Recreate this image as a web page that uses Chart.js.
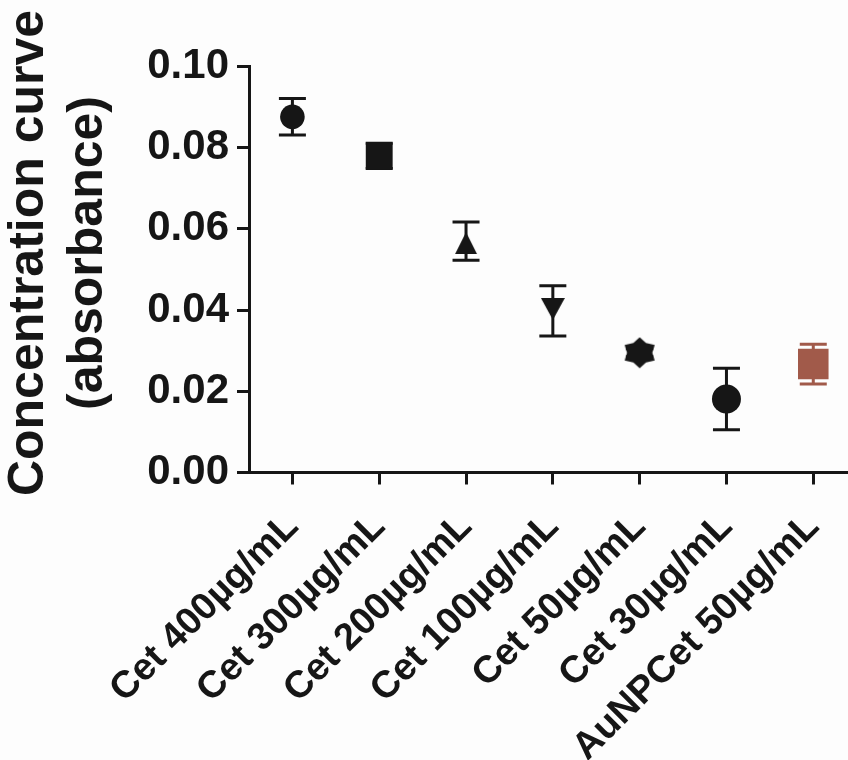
<!DOCTYPE html>
<html>
<head>
<meta charset="utf-8">
<title>Concentration curve</title>
<script src="https://cdn.jsdelivr.net/npm/chart.js@4.4.0/dist/chart.umd.min.js"></script>
<style>
  html, body { margin: 0; padding: 0; background: #fdfdfd; }
  canvas { display: block; }
</style>
</head>
<body>
<canvas id="graficoCurva" width="848" height="760"></canvas>
<script>
// Grupos do eixo x
const categorias = ['Cet 400µg/mL', 'Cet 300µg/mL', 'Cet 200µg/mL', 'Cet 100µg/mL', 'Cet 50µg/mL', 'Cet 30µg/mL', 'AuNPCet 50µg/mL'];
// Média da absorbância e desvio de cada grupo
const medias = [0.0876, 0.0780, 0.0570, 0.0398, 0.0295, 0.0181, 0.0267];
const desvios = [0.0045, 0.0031, 0.0047, 0.0062, 0.0010, 0.0076, 0.0049];
// Marcas do eixo y
const ticksY = [0, 0.02, 0.04, 0.06, 0.08, 0.10];
const tituloY = ['Concentration curve', '(absorbance)'];

const PRETO = '#161616';
const TIJOLO = '#a15a4a';
const FONTE = "'Liberation Sans', Arial, sans-serif";

// Desenha um símbolo num canvas pequeno para usar como pointStyle
function simbolo(w, h, desenha) {
  const c = document.createElement('canvas');
  c.width = w;
  c.height = h;
  const g = c.getContext('2d');
  g.fillStyle = PRETO;
  g.beginPath();
  desenha(g);
  g.closePath();
  g.fill();
  return c;
}

const trianguloCima = simbolo(24, 26, g => { g.moveTo(12, 4); g.lineTo(23, 26); g.lineTo(1, 26); });
const trianguloBaixo = simbolo(24, 26, g => { g.moveTo(0, 0); g.lineTo(24, 0); g.lineTo(12, 22); });
const estrela = simbolo(32, 32, g => {
  for (let i = 0; i < 12; i++) {
    const a = i * Math.PI / 6;
    const r = i % 2 === 0 ? 15.5 : 11.3;
    const x = 16 + Math.sin(a) * r * 1.12;
    const y = 16 - Math.cos(a) * r;
    if (i === 0) g.moveTo(x, y); else g.lineTo(x, y);
  }
});

const estilos = ['circle', 'rect', trianguloCima, trianguloBaixo, estrela, 'circle', 'rect'];
const raios = [12.3, 19, 13, 13, 16, 14.5, 21.6];
const cores = categorias.map((_, i) => i === categorias.length - 1 ? TIJOLO : PRETO);

// Barras de erro (média ± desvio), atrás dos símbolos
const barrasErro = {
  id: 'barrasErro',
  beforeDatasetsDraw(chart) {
    const { ctx, scales: { x, y } } = chart;
    ctx.save();
    ctx.lineWidth = 3;
    ctx.lineCap = 'butt';
    medias.forEach((m, i) => {
      const px = x.getPixelForValue(i);
      const topo = y.getPixelForValue(m + desvios[i]);
      const base = y.getPixelForValue(m - desvios[i]);
      ctx.strokeStyle = cores[i];
      ctx.beginPath();
      ctx.moveTo(px, topo);
      ctx.lineTo(px, base);
      ctx.moveTo(px - 13.5, topo);
      ctx.lineTo(px + 13.5, topo);
      ctx.moveTo(px - 13.5, base);
      ctx.lineTo(px + 13.5, base);
      ctx.stroke();
    });
    ctx.restore();
  }
};

// Título do eixo y em duas linhas
const tituloEixo = {
  id: 'tituloEixo',
  afterDraw(chart) {
    const ctx = chart.ctx;
    const linhas = [43, 102];
    ctx.save();
    ctx.fillStyle = PRETO;
    ctx.font = `bold 50px ${FONTE}`;
    ctx.textAlign = 'center';
    ctx.textBaseline = 'alphabetic';
    tituloY.forEach((t, i) => {
      ctx.save();
      ctx.translate(linhas[i], 253);
      ctx.rotate(-Math.PI / 2);
      ctx.fillText(t, 0, 0);
      ctx.restore();
    });
    ctx.restore();
  }
};

const grade = { drawOnChartArea: false, drawTicks: true, tickLength: 12, tickWidth: 3, tickColor: PRETO };
const borda = { display: true, width: 3, color: PRETO };

new Chart(document.getElementById('graficoCurva'), {
  type: 'scatter',
  data: {
    datasets: [{
      data: medias.map((m, i) => ({ x: i, y: m })),
      pointStyle: estilos,
      pointRadius: raios,
      pointHoverRadius: raios,
      pointBackgroundColor: cores,
      pointBorderWidth: 0,
      showLine: false
    }]
  },
  options: {
    responsive: false,
    animation: false,
    layout: { autoPadding: false, padding: { top: 66.5, right: 0, bottom: 0, left: 0 } },
    plugins: {
      legend: { display: false },
      tooltip: { enabled: false }
    },
    scales: {
      x: {
        type: 'linear',
        min: -0.5,
        max: 6.4,
        afterBuildTicks: s => { s.ticks = categorias.map((_, i) => ({ value: i })); },
        afterFit: s => {
          s.height = 287.5;
          // o eixo vai até a borda direita
          s.paddingLeft = 0;
          s.paddingRight = 0;
        },
        ticks: {
          callback: v => categorias[v],
          autoSkip: false,
          minRotation: 45,
          maxRotation: 45,
          padding: 20,
          color: PRETO,
          font: { family: FONTE, size: 38, weight: 'bold' }
        },
        grid: grade,
        border: borda
      },
      y: {
        min: 0,
        max: 0.1,
        afterBuildTicks: s => { s.ticks = ticksY.map(v => ({ value: v })); },
        afterFit: s => { s.width = 249; },
        ticks: {
          callback: v => v.toFixed(2),
          padding: 8,
          color: PRETO,
          font: { family: FONTE, size: 42, weight: 'bold' }
        },
        grid: grade,
        border: borda
      }
    }
  },
  plugins: [barrasErro, tituloEixo]
});
</script>
</body>
</html>
